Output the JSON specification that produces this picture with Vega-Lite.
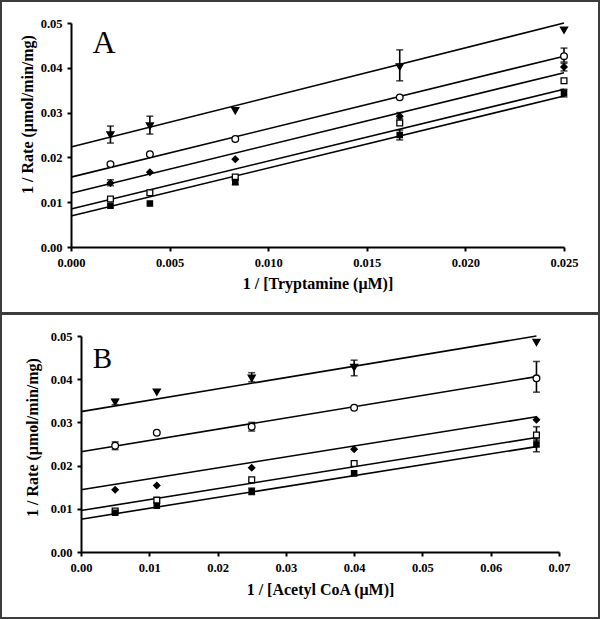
{
  "$schema": "https://vega.github.io/schema/vega-lite/v6.json",
  "padding": 0,
  "background": "white",
  "spacing": 1,
  "bounds": "flush",
  "config": {
    "view": {"stroke": "#3c3c3c", "strokeWidth": 2},
    "axis": {
      "labelFont": "Liberation Serif", "labelFontWeight": "bold", "labelFontSize": 12.5, "labelColor": "black",
      "titleFont": "Liberation Serif", "titleFontWeight": "bold", "titleFontSize": 16, "titleColor": "black",
      "domainColor": "black", "domainWidth": 2, "tickColor": "black", "tickWidth": 2, "tickSize": 4,
      "labelPadding": 5, "grid": false, "labelFlush": false, "labelOverlap": false
    }
  },
  "datasets": {
    "ptsA": [
      {"s": 1, "x": 0.002, "y": 0.0250}, {"s": 1, "x": 0.004, "y": 0.0270}, {"s": 1, "x": 0.00833, "y": 0.0304}, {"s": 1, "x": 0.01667, "y": 0.0402}, {"s": 1, "x": 0.025, "y": 0.0484},
      {"s": 2, "x": 0.002, "y": 0.0185}, {"s": 2, "x": 0.004, "y": 0.0207}, {"s": 2, "x": 0.00833, "y": 0.0241}, {"s": 2, "x": 0.01667, "y": 0.0334}, {"s": 2, "x": 0.025, "y": 0.0426},
      {"s": 3, "x": 0.002, "y": 0.0143}, {"s": 3, "x": 0.004, "y": 0.0167}, {"s": 3, "x": 0.00833, "y": 0.0196}, {"s": 3, "x": 0.01667, "y": 0.0292}, {"s": 3, "x": 0.025, "y": 0.0402},
      {"s": 4, "x": 0.002, "y": 0.0107}, {"s": 4, "x": 0.004, "y": 0.0121}, {"s": 4, "x": 0.00833, "y": 0.0156}, {"s": 4, "x": 0.01667, "y": 0.0277}, {"s": 4, "x": 0.025, "y": 0.0371},
      {"s": 5, "x": 0.002, "y": 0.0092}, {"s": 5, "x": 0.004, "y": 0.0097}, {"s": 5, "x": 0.00833, "y": 0.0145}, {"s": 5, "x": 0.01667, "y": 0.0250}, {"s": 5, "x": 0.025, "y": 0.0344}
    ],
    "errA": [
      {"s": 1, "x": 0.002, "lo": 0.0232, "hi": 0.0270}, {"s": 1, "x": 0.004, "lo": 0.0252, "hi": 0.0292}, {"s": 1, "x": 0.01667, "lo": 0.0371, "hi": 0.0440},
      {"s": 2, "x": 0.025, "lo": 0.0413, "hi": 0.0444},
      {"s": 3, "x": 0.002, "lo": 0.0137, "hi": 0.0150}, {"s": 3, "x": 0.01667, "lo": 0.0287, "hi": 0.0300}, {"s": 3, "x": 0.025, "lo": 0.0393, "hi": 0.0410},
      {"s": 5, "x": 0.00833, "lo": 0.0139, "hi": 0.0153}, {"s": 5, "x": 0.01667, "lo": 0.0239, "hi": 0.0261}, {"s": 5, "x": 0.025, "lo": 0.0335, "hi": 0.0352}
    ],
    "linesA": [
      {"s": 1, "x": 0, "y": 0.0223}, {"s": 1, "x": 0.025, "y": 0.0500},
      {"s": 2, "x": 0, "y": 0.0156}, {"s": 2, "x": 0.025, "y": 0.0426},
      {"s": 3, "x": 0, "y": 0.0120}, {"s": 3, "x": 0.025, "y": 0.0389},
      {"s": 4, "x": 0, "y": 0.0085}, {"s": 4, "x": 0.025, "y": 0.0352},
      {"s": 5, "x": 0, "y": 0.0069}, {"s": 5, "x": 0.025, "y": 0.0337}
    ],
    "ptsB": [
      {"s": 1, "x": 0.005, "y": 0.0347}, {"s": 1, "x": 0.0111, "y": 0.0370}, {"s": 1, "x": 0.025, "y": 0.0402}, {"s": 1, "x": 0.04, "y": 0.0427}, {"s": 1, "x": 0.0667, "y": 0.0485},
      {"s": 2, "x": 0.005, "y": 0.0246}, {"s": 2, "x": 0.0111, "y": 0.0276}, {"s": 2, "x": 0.025, "y": 0.0290}, {"s": 2, "x": 0.04, "y": 0.0334}, {"s": 2, "x": 0.0667, "y": 0.0402},
      {"s": 3, "x": 0.005, "y": 0.0144}, {"s": 3, "x": 0.0111, "y": 0.0154}, {"s": 3, "x": 0.025, "y": 0.0195}, {"s": 3, "x": 0.04, "y": 0.0238}, {"s": 3, "x": 0.0667, "y": 0.0306},
      {"s": 4, "x": 0.005, "y": 0.0095}, {"s": 4, "x": 0.0111, "y": 0.0120}, {"s": 4, "x": 0.025, "y": 0.0167}, {"s": 4, "x": 0.04, "y": 0.0205}, {"s": 4, "x": 0.0667, "y": 0.0271},
      {"s": 5, "x": 0.005, "y": 0.0091}, {"s": 5, "x": 0.0111, "y": 0.0107}, {"s": 5, "x": 0.025, "y": 0.0140}, {"s": 5, "x": 0.04, "y": 0.0182}, {"s": 5, "x": 0.0667, "y": 0.0249}
    ],
    "errB": [
      {"s": 1, "x": 0.005, "lo": 0.0341, "hi": 0.0353}, {"s": 1, "x": 0.025, "lo": 0.0394, "hi": 0.0415}, {"s": 1, "x": 0.04, "lo": 0.0408, "hi": 0.0444},
      {"s": 2, "x": 0.005, "lo": 0.0237, "hi": 0.0255}, {"s": 2, "x": 0.025, "lo": 0.0280, "hi": 0.0300}, {"s": 2, "x": 0.0667, "lo": 0.0370, "hi": 0.0441},
      {"s": 4, "x": 0.0667, "lo": 0.0258, "hi": 0.0290},
      {"s": 5, "x": 0.025, "lo": 0.0133, "hi": 0.0148}, {"s": 5, "x": 0.0667, "lo": 0.0232, "hi": 0.0262}
    ],
    "linesB": [
      {"s": 1, "x": 0, "y": 0.0325}, {"s": 1, "x": 0.0667, "y": 0.0500},
      {"s": 2, "x": 0, "y": 0.0232}, {"s": 2, "x": 0.0667, "y": 0.0406},
      {"s": 3, "x": 0, "y": 0.0144}, {"s": 3, "x": 0.0667, "y": 0.0313},
      {"s": 4, "x": 0, "y": 0.0096}, {"s": 4, "x": 0.0667, "y": 0.0265},
      {"s": 5, "x": 0, "y": 0.0076}, {"s": 5, "x": 0.0667, "y": 0.0244}
    ],
    "labA": [{"x": 0.00167, "y": 0.0433, "label": "A"}],
    "labB": [{"x": 0.00315, "y": 0.0426, "label": "B"}]
  },
  "vconcat": [
    {
      "width": 598,
      "height": 312,
      "layer": [
        {
          "data": {"name": "linesA"},
          "mark": {"type": "line", "color": "black", "strokeWidth": 1.6},
          "encoding": {
            "x": {"field": "x", "type": "quantitative", "title": "1 / [Tryptamine (μM)]",
              "scale": {"domain": [0, 0.025], "range": [70, 563], "nice": false, "zero": false},
              "axis": {"values": [0, 0.005, 0.01, 0.015, 0.02, 0.025], "format": ".3f", "offset": -66, "titleY": 36, "titleBaseline": "middle"}},
            "y": {"field": "y", "type": "quantitative", "title": "1 / Rate (μmol/min/mg)",
              "scale": {"domain": [0, 0.05], "range": [246, 22], "nice": false, "zero": false},
              "axis": {"values": [0, 0.01, 0.02, 0.03, 0.04, 0.05], "format": ".2f", "offset": -70, "titleX": -44, "titleY": 113, "titleBaseline": "middle", "titleAlign": "center"}},
            "detail": {"field": "s", "type": "nominal"}
          }
        },
        {
          "data": {"name": "errA"},
          "mark": {"type": "errorbar", "color": "black", "ticks": {"size": 7}, "thickness": 1.6},
          "encoding": {
            "x": {"field": "x", "type": "quantitative", "title": "1 / [Tryptamine (μM)]"},
            "y": {"field": "lo", "type": "quantitative", "title": "1 / Rate (μmol/min/mg)"},
            "y2": {"field": "hi"}
          }
        },
        {
          "data": {"name": "ptsA"},
          "mark": {"type": "point", "filled": true, "stroke": "black", "strokeWidth": 1.3, "opacity": 1},
          "encoding": {
            "x": {"field": "x", "type": "quantitative", "title": "1 / [Tryptamine (μM)]"},
            "y": {"field": "y", "type": "quantitative", "title": "1 / Rate (μmol/min/mg)"},
            "shape": {"field": "s", "type": "nominal", "legend": null, "scale": {"domain": [1, 2, 3, 4, 5], "range": ["triangle-down", "circle", "diamond", "square", "square"]}},
            "fill": {"field": "s", "type": "nominal", "legend": null, "scale": {"domain": [1, 2, 3, 4, 5], "range": ["black", "white", "black", "white", "black"]}},
            "size": {"field": "s", "type": "ordinal", "legend": null, "scale": {"domain": [1, 2, 3, 4, 5], "range": [50, 28, 48, 30, 18]}}
          }
        },
        {
          "data": {"name": "labA"},
          "mark": {"type": "text", "font": "Liberation Serif", "fontSize": 32, "align": "center", "baseline": "alphabetic", "color": "black"},
          "encoding": {
            "x": {"field": "x", "type": "quantitative", "title": "1 / [Tryptamine (μM)]"},
            "y": {"field": "y", "type": "quantitative", "title": "1 / Rate (μmol/min/mg)"},
            "text": {"field": "label"}
          }
        }
      ]
    },
    {
      "width": 598,
      "height": 304,
      "layer": [
        {
          "data": {"name": "linesB"},
          "mark": {"type": "line", "color": "black", "strokeWidth": 1.6},
          "encoding": {
            "x": {"field": "x", "type": "quantitative", "title": "1 / [Acetyl CoA (μM)]",
              "scale": {"domain": [0, 0.07], "range": [80, 558], "nice": false, "zero": false},
              "axis": {"values": [0, 0.01, 0.02, 0.03, 0.04, 0.05, 0.06, 0.07], "format": ".2f", "offset": -66, "titleY": 37, "titleBaseline": "middle"}},
            "y": {"field": "y", "type": "quantitative", "title": "1 / Rate (μmol/min/mg)",
              "scale": {"domain": [0, 0.05], "range": [238, 22], "nice": false, "zero": false},
              "axis": {"values": [0, 0.01, 0.02, 0.03, 0.04, 0.05], "format": ".2f", "offset": -80, "titleX": -49, "titleY": 123, "titleBaseline": "middle", "titleAlign": "center"}},
            "detail": {"field": "s", "type": "nominal"}
          }
        },
        {
          "data": {"name": "errB"},
          "mark": {"type": "errorbar", "color": "black", "ticks": {"size": 7}, "thickness": 1.6},
          "encoding": {
            "x": {"field": "x", "type": "quantitative", "title": "1 / [Acetyl CoA (μM)]"},
            "y": {"field": "lo", "type": "quantitative", "title": "1 / Rate (μmol/min/mg)"},
            "y2": {"field": "hi"}
          }
        },
        {
          "data": {"name": "ptsB"},
          "mark": {"type": "point", "filled": true, "stroke": "black", "strokeWidth": 1.3, "opacity": 1},
          "encoding": {
            "x": {"field": "x", "type": "quantitative", "title": "1 / [Acetyl CoA (μM)]"},
            "y": {"field": "y", "type": "quantitative", "title": "1 / Rate (μmol/min/mg)"},
            "shape": {"field": "s", "type": "nominal", "legend": null, "scale": {"domain": [1, 2, 3, 4, 5], "range": ["triangle-down", "circle", "diamond", "square", "square"]}},
            "fill": {"field": "s", "type": "nominal", "legend": null, "scale": {"domain": [1, 2, 3, 4, 5], "range": ["black", "white", "black", "white", "black"]}},
            "size": {"field": "s", "type": "ordinal", "legend": null, "scale": {"domain": [1, 2, 3, 4, 5], "range": [50, 28, 48, 30, 18]}}
          }
        },
        {
          "data": {"name": "labB"},
          "mark": {"type": "text", "font": "Liberation Serif", "fontSize": 29, "align": "center", "baseline": "alphabetic", "color": "black"},
          "encoding": {
            "x": {"field": "x", "type": "quantitative", "title": "1 / [Acetyl CoA (μM)]"},
            "y": {"field": "y", "type": "quantitative", "title": "1 / Rate (μmol/min/mg)"},
            "text": {"field": "label"}
          }
        }
      ]
    }
  ]
}
